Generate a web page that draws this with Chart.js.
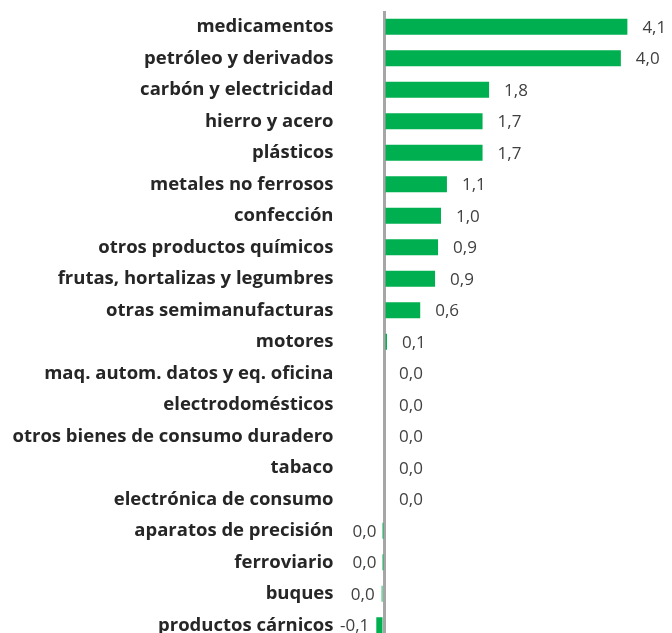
<!DOCTYPE html>
<html>
<head>
<meta charset="utf-8">
<script src="https://cdn.jsdelivr.net/npm/chart.js@4"></script>
<style>
  html, body { margin: 0; padding: 0; background: #fff; overflow: hidden; }
  #wrap { width: 672px; height: 645px; }
</style>
</head>
<body>
<div id="wrap"><canvas id="chart"></canvas></div>
<script>
const categories = [
  'medicamentos', 'petróleo y derivados', 'carbón y electricidad', 'hierro y acero',
  'plásticos', 'metales no ferrosos', 'confección', 'otros productos químicos',
  'frutas, hortalizas y legumbres', 'otras semimanufacturas', 'motores',
  'maq. autom. datos y eq. oficina', 'electrodomésticos', 'otros bienes de consumo duradero',
  'tabaco', 'electrónica de consumo', 'aparatos de precisión', 'ferroviario', 'buques',
  'productos cárnicos'
];
const values = [4.1, 3.99, 1.77, 1.66, 1.66, 1.06, 0.96, 0.91, 0.86, 0.61, 0.05,
  0, 0, 0, 0, 0, -0.01, -0.01, -0.04, -0.13];
// which side of the axis the label goes (Excel puts "0,0" left when the value is slightly negative)
const labelSide = values.map(v => (v < 0 ? 'left' : 'right'));

function formatValue(v) {
  let s = v.toFixed(1);
  if (s === '-0.0') s = '0.0';
  return s.replace('.', ',');
}

const valueLabels = {
  id: 'valueLabels',
  afterDatasetsDraw(chart) {
    const ctx = chart.ctx;
    const meta = chart.getDatasetMeta(0);
    ctx.save();
    ctx.font = '17px "Open Sans"';
    ctx.fillStyle = '#404040';
    ctx.textBaseline = 'middle';
    meta.data.forEach((bar, i) => {
      if (labelSide[i] === 'right') {
        ctx.textAlign = 'left';
        ctx.fillText(formatValue(values[i]), bar.x + 15, bar.y + 1);
      } else {
        ctx.textAlign = 'right';
        ctx.fillText(formatValue(values[i]), bar.x - 7, bar.y + 1);
      }
    });
    ctx.restore();
  }
};

new Chart(document.getElementById('chart'), {
  type: 'bar',
  data: {
    labels: categories,
    datasets: [{
      data: values,
      backgroundColor: '#00b050',
      barPercentage: 0.51,
      categoryPercentage: 1
    }]
  },
  options: {
    indexAxis: 'y',
    responsive: true,
    maintainAspectRatio: false,
    animation: false,
    layout: { padding: { top: 11, right: 9, bottom: 4, left: 0 } },
    plugins: { legend: { display: false }, tooltip: { enabled: false } },
    scales: {
      x: {
        min: -0.75,
        max: 4.7,
        z: 1,
        afterBuildTicks(scale) { scale.ticks = [{ value: 0 }]; },
        afterFit(scale) { scale.height = 0; },
        ticks: { display: false },
        border: { display: false },
        grid: { color: '#a6a6a6', lineWidth: 3, drawTicks: false }
      },
      y: {
        afterFit(scale) {
          scale.width = 339.5;
          scale.paddingTop = 0;
          scale.paddingBottom = 0;
        },
        border: { display: false },
        grid: { display: false, drawTicks: false },
        ticks: {
          padding: 6,
          color: '#262626',
          font: { family: 'Open Sans', size: 18.5, weight: 'bold' }
        }
      }
    }
  },
  plugins: [valueLabels]
});
</script>
</body>
</html>
